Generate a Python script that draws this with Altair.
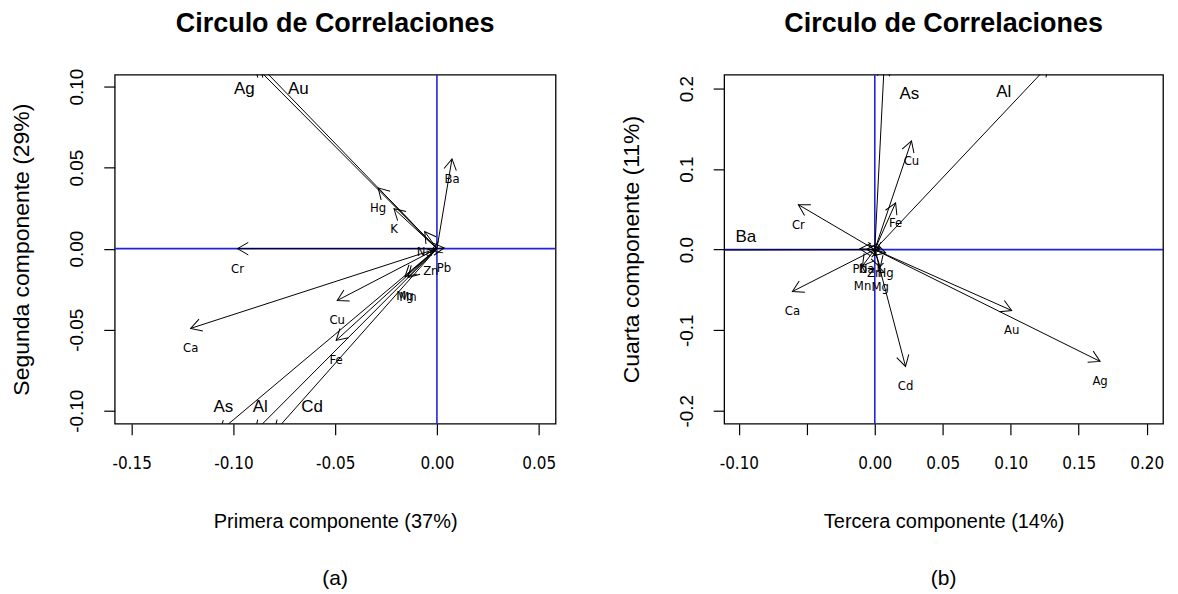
import altair as alt
import numpy as np
import pandas as pd

# ---------------- data ----------------
# Panel (a): first vs second component loadings
vars_a = ["Ag", "Au", "As", "Al", "Cd", "Ba", "Hg", "K", "Cr", "Ca", "Cu", "Fe",
          "Mg", "Mn", "Na", "Pb", "Zn"]
pc1 = [-0.0896, -0.0870, -0.1070, -0.0896, -0.0798, 0.0074, -0.0289, -0.0211, -0.0980,
       -0.1210, -0.0490, -0.0495, -0.0157, -0.0142, -0.0060, 0.0035, -0.0030]
pc2 = [0.1130, 0.1130, -0.1130, -0.1130, -0.1130, 0.0554, 0.0375, 0.0246, 0.0000,
       -0.0492, -0.0320, -0.0566, -0.0172, -0.0178, 0.0105, 0.0005, -0.0015]
manual_a = ["Ag", "Au", "As", "Al", "Cd"]
manual_a_x = [-0.0946, -0.0681, -0.1049, -0.0868, -0.0613]
manual_a_y = [0.0984, 0.0984, -0.0978, -0.0978, -0.0978]

# Panel (b): third vs fourth component loadings
vars_b = ["As", "Al", "Cu", "Fe", "Cr", "Ba", "Ca", "Au", "Ag", "Cd",
          "Pb", "Na", "Zn", "Hg", "K", "Mn", "Mg"]
pc3 = [0.0069, 0.1280, 0.0270, 0.0153, -0.0562, -0.1260, -0.0606, 0.1007, 0.1657, 0.0226,
       -0.0110, -0.0060, 0.0000, 0.0080, 0.0040, -0.0090, 0.0040]
pc4 = [0.2290, 0.2290, 0.1350, 0.0580, 0.0558, -0.0005, -0.0520, -0.0756, -0.1388, -0.1450,
       0.0010, 0.0005, -0.0040, -0.0040, 0.0020, -0.0200, -0.0220]
manual_b = ["As", "Al", "Ba"]
manual_b_x = [0.0255, 0.0949, -0.0949]
manual_b_y = [0.1933, 0.1958, 0.0161]

xticks_a = [-0.15, -0.10, -0.05, 0.00, 0.05]
yticks_a = [-0.10, -0.05, 0.00, 0.05, 0.10]
xticks_b = [-0.10, -0.05, 0.00, 0.05, 0.10, 0.15, 0.20]
yticks_b = [-0.2, -0.1, 0.0, 0.1, 0.2]

TITLE = "Circulo de Correlaciones"
FONT = "Liberation Sans"
NARROW = "Liberation Sans Narrow, DejaVu Sans Condensed, Liberation Sans"
BLUE = "#2323d8"
ARROW = "M -1 -0.577 L 0 0 L -1 0.577"


def num_expr(dec, skip=None):
    e = f"(datum.value < -1e-9 ? '-' : '') + format(abs(datum.value), '.{dec}f')"
    if skip is not None:
        e = f"abs(datum.value - ({skip})) < 1e-9 ? '' : " + e
    return e


def panel(names, xs, ys, man_names, man_x, man_y, xdom, ydom, xvals, yvals,
          xdec, ydec, xskip, xtitle, ytitle, caption, W, H):
    sx = W / (xdom[1] - xdom[0])
    sy = H / (ydom[1] - ydom[0])
    df = pd.DataFrame({"name": names, "x": xs, "y": ys})
    df["x0"] = 0.0
    df["y0"] = 0.0
    df["ang"] = np.degrees(np.arctan2(-df["y"] * sy, df["x"] * sx)) % 360
    df["lab"] = ["" if n in man_names else n for n in names]
    man = pd.DataFrame({"name": man_names, "x": man_x, "y": man_y})

    xscale = alt.Scale(domain=xdom, nice=False, zero=False)
    yscale = alt.Scale(domain=ydom, nice=False, zero=False)
    xaxis = alt.Axis(values=xvals, labelExpr=num_expr(xdec, xskip), title=xtitle,
                     grid=False, domain=False,
                     labelFont=NARROW, labelFontSize=17, labelPadding=21,
                     titleFont=FONT, titleFontSize=20, titleFontWeight="normal",
                     titlePadding=40, tickSize=11, labelFlush=False)
    yaxis = alt.Axis(values=yvals, labelExpr=num_expr(ydec), title=ytitle,
                     grid=False, domain=False,
                     labelFont=FONT, labelFontSize=19, labelAngle=270,
                     labelPadding=17, labelFlush=False,
                     titleFont=FONT, titleFontSize=23, titleFontWeight="normal",
                     titlePadding=34, tickSize=11)

    def X(f):
        return alt.X(f, type="quantitative", scale=xscale, axis=xaxis)

    def Y(f):
        return alt.Y(f, type="quantitative", scale=yscale, axis=yaxis)

    vline = alt.Chart(pd.DataFrame({"x": [0.0]})).mark_rule(
        color=BLUE, strokeWidth=1.6).encode(x=X("x"))
    hline = alt.Chart(pd.DataFrame({"y": [0.0]})).mark_rule(
        color=BLUE, strokeWidth=1.6).encode(y=Y("y"))
    base = alt.Chart(df)
    shafts = base.mark_rule(color="black", strokeWidth=1, clip=True).encode(
        x=X("x0"), y=Y("y0"), x2="x", y2="y")
    heads = base.mark_point(shape=ARROW, filled=False, size=470, color="black",
                            strokeWidth=1, opacity=1, clip=True).encode(
        x=X("x"), y=Y("y"), angle=alt.Angle("ang:Q", scale=None))
    labels = base.mark_text(font=NARROW, fontSize=13, dy=20, color="black",
                            clip=True).encode(x=X("x"), y=Y("y"), text="lab:N")
    mlabels = alt.Chart(man).mark_text(font=FONT, fontSize=17, color="black").encode(
        x=X("x"), y=Y("y"), text="name:N")
    ttl = alt.Chart(pd.DataFrame({"t": [TITLE]})).mark_text(
        font=FONT, fontSize=27, fontWeight="bold", color="black").encode(
        x=alt.value(W / 2), y=alt.value(-51), text="t:N")
    cap = alt.Chart(pd.DataFrame({"c": [caption]})).mark_text(
        font=FONT, fontSize=21, color="black").encode(
        x=alt.value(W / 2), y=alt.value(H + 156), text="c:N")
    return alt.layer(vline, hline, shafts, heads, labels, mlabels, ttl, cap).properties(
        width=W, height=H)


left = panel(vars_a, pc1, pc2, manual_a, manual_a_x, manual_a_y,
             [-0.1583, 0.0583], [-0.1080, 0.1074], xticks_a, yticks_a, 2, 2, None,
             "Primera componente (37%)", "Segunda componente (29%)", "(a)", 442, 350)
right = panel(vars_b, pc3, pc4, manual_b, manual_b_x, manual_b_y,
              [-0.1108, 0.2120], [-0.2161, 0.2173], xticks_b, yticks_b, 2, 1, -0.05,
              "Tercera componente (14%)", "Cuarta componente (11%)", "(b)", 440, 350)

chart = alt.hconcat(
    left, right, spacing=62,
    padding={"left": 2, "top": 0, "right": 5, "bottom": 5},
).configure_view(
    stroke="black", strokeWidth=1.3
).configure_axis(
    domain=False, grid=False, tickColor="black", labelColor="black",
    titleColor="black", tickWidth=1.2
)

chart.save("out.html", embed_options={"renderer": "svg", "actions": False})
